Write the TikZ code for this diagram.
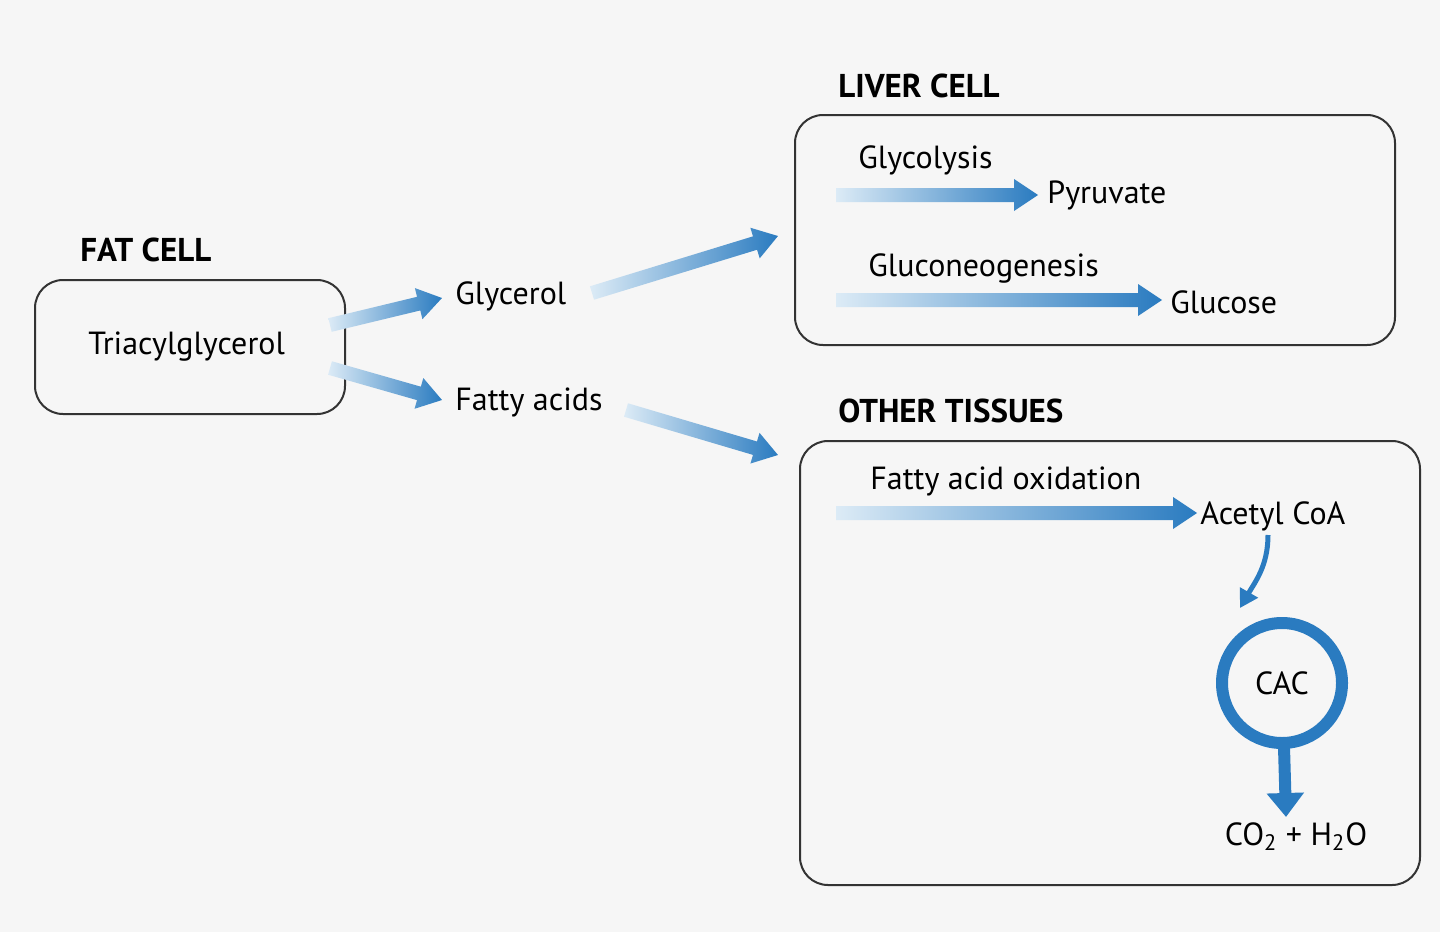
\documentclass[tikz,border=0pt]{standalone}
\usepackage{fontspec}
\setmainfont{PT Sans}
\usetikzlibrary{calc,arrows.meta}
\definecolor{arrblue}{HTML}{2A7BC0}
\definecolor{arrlight}{HTML}{DCEBF6}
\definecolor{bg}{HTML}{F6F6F6}
\tikzset{
  x=0.5pt,y=-0.5pt,
  lbl/.style={font=\fontsize{16}{18}\selectfont, inner sep=0pt, anchor=west},
  ttl/.style={font=\fontsize{16.5}{18}\selectfont\bfseries, inner sep=0pt, anchor=west},
  cellbox/.style={draw=black!80, line width=1pt, rounded corners=14pt},
  fatarr/.style={left color=arrlight, right color=arrblue},
}
\makeatletter
% #1 shaft half width (pt), #2 start, #3 end
\newcommand{\fatarrow}[3][3.5]{%
  \pgfpointdiff{\pgfpointanchor{#2}{center}}{\pgfpointanchor{#3}{center}}%
  \pgfmathsetmacro{\arrL}{veclen(\pgf@x,\pgf@y)}%
  \pgfmathsetmacro{\arrA}{atan2(\pgf@y,\pgf@x)}%
  \pgfmathsetmacro{\arrH}{\arrL-12}%
  \pgfmathsetmacro{\arrW}{#1+4.5}%
  \shade[fatarr, shift={(#2)}, rotate=\arrA]
    (0pt,-#1pt) -- (\arrH pt,-#1pt) -- (\arrH pt,-\arrW pt) -- (\arrL pt,0pt)
    -- (\arrH pt,\arrW pt) -- (\arrH pt,#1pt) -- (0pt,#1pt) -- cycle;}
\makeatother
\begin{document}
\begin{tikzpicture}
\fill[bg] (0,0) rectangle (1440,932);
\useasboundingbox (0,0) rectangle (1440,932);
% fat cell
\node[ttl] (fattl) at (80,250) {FAT CELL};
\node[cellbox, minimum width=155pt, minimum height=67pt] (fat) at (190,347) {};
\node[lbl] (tag) at (88,347) {Triacylglycerol};
\node[lbl] (gly) at (455,296) {Glycerol};
\node[lbl] (fa) at (455,402) {Fatty acids};
\coordinate (a1) at (330,325); \coordinate (a2) at (442,298);
\coordinate (b1) at (330,368); \coordinate (b2) at (442,400);
\coordinate (c1) at (592,293); \coordinate (c2) at (778,236);
\coordinate (d1) at (626,410); \coordinate (d2) at (778,455);
\fatarrow{a1}{a2}
\fatarrow{b1}{b2}
\fatarrow{c1}{c2}
\fatarrow{d1}{d2}
% liver
\node[ttl] (lvttl) at (838,86) {LIVER CELL};
\node[cellbox, minimum width=300pt, minimum height=115pt] (liver) at (1095,230) {};
\node[lbl] (glyc) at (858,160) {Glycolysis};
\node[lbl] (pyr) at (1047,195) {Pyruvate};
\coordinate (e1) at (836,195); \coordinate (e2) at (1038,195);
\fatarrow{e1}{e2}
\node[lbl] (gng) at (868,268) {Gluconeogenesis};
\node[lbl] (glc) at (1170,302) {Glucose};
\coordinate (f1) at (836,300); \coordinate (f2) at (1162,300);
\fatarrow{f1}{f2}
% other tissues
\node[ttl] (otttl) at (838,411) {OTHER TISSUES};
\node[cellbox, minimum width=310pt, minimum height=222pt] (other) at (1110,663) {};
\node[lbl] (fao) at (870,481) {Fatty acid oxidation};
\node[lbl] (acoa) at (1200,516) {Acetyl CoA};
\coordinate (g1) at (836,513); \coordinate (g2) at (1197,513);
\fatarrow{g1}{g2}
\node[draw=arrblue, line width=6pt, circle, minimum size=60pt, inner sep=0pt,
      font=\fontsize{16}{18}\selectfont] (cac) at (1282,683) {CAC};
\draw[arrblue, line width=2.5pt, -{Triangle[length=9pt,width=10pt]}]
  (1268,535) to[out=-90,in=60] (1240,608);
\node[lbl, anchor=north] (co2) at (1296,822) {CO\textsubscript{2} + H\textsubscript{2}O};
\draw[arrblue, line width=6pt, -{Triangle[length=12pt,width=18pt]}]
  (cac.south) ++(2,-2) -- (1286,817);
\end{tikzpicture}
\end{document}
